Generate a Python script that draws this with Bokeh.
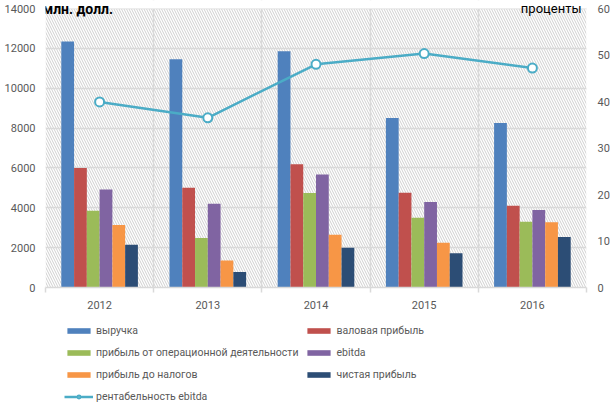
from bokeh.plotting import figure
from bokeh.layouts import column
from bokeh.models import (Range1d, LinearAxis, FixedTicker, Legend, LegendItem, Label,
                          BoxAnnotation, ColumnDataSource, NumeralTickFormatter)
from bokeh.transform import dodge
from bokeh.embed import file_html
from bokeh.resources import INLINE

years = [2012, 2013, 2014, 2015, 2016]
revenue = [12350, 11450, 11850, 8500, 8250]
gross_profit = [6000, 5000, 6180, 4750, 4100]
operating_profit = [3850, 2480, 4740, 3500, 3300]
ebitda = [4920, 4200, 5670, 4290, 3890]
pretax_profit = [3140, 1350, 2650, 2250, 3280]
net_profit = [2140, 780, 2000, 1720, 2530]
ebitda_margin = [39.9, 36.5, 48.0, 50.3, 47.2]

series_names = ["выручка", "валовая прибыль", "прибыль от операционной деятельности",
                "ebitda", "прибыль до налогов", "чистая прибыль"]
line_name = "рентабельность ebitda"
left_unit = "млн. долл."
right_unit = "проценты"

colors = ["#4f81bd", "#c0504d", "#9bbb59", "#8064a2", "#f79646", "#2c4d75"]
line_color = "#4bacc6"
FONT = "Roboto"
GRID = "#d9d9d9"
TXT = "#595959"

Y_MAX, PCT_MAX = 14000, 60
FRAME_H, TOP_PAD = 287, 8          # frame pixels, headroom above the top gridline
y_end = Y_MAX * FRAME_H / (FRAME_H - TOP_PAD)
pct_end = PCT_MAX * FRAME_H / (FRAME_H - TOP_PAD)

src = ColumnDataSource(dict(year=years, s0=revenue, s1=gross_profit, s2=operating_profit,
                            s3=ebitda, s4=pretax_profit, s5=net_profit, m=ebitda_margin))

p = figure(width=614, height=316, x_range=Range1d(2011.5, 2016.5), y_range=Range1d(0, y_end),
           output_backend="svg", toolbar_location=None,
           min_border_left=45, min_border_right=28, min_border_top=0, min_border_bottom=29,
           outline_line_color=None, background_fill_color="white", border_fill_color="white")
p.extra_y_ranges = {"pct": Range1d(0, pct_end)}

# hatched plot area
hatch = BoxAnnotation(top=Y_MAX, fill_alpha=0, line_color=None, hatch_pattern="\\",
                      hatch_color="#cfcfcf", hatch_scale=5, hatch_weight=1, level="image")
p.add_layout(hatch)

# grids
p.ygrid.ticker = FixedTicker(ticks=list(range(0, Y_MAX + 1, 2000)))
p.ygrid.grid_line_color = GRID
p.ygrid.grid_line_width = 1.5
p.xgrid.ticker = FixedTicker(ticks=[2012.5, 2013.5, 2014.5, 2015.5])
p.xgrid.grid_line_color = GRID
p.xgrid.grid_line_width = 1.5

# blank the headroom above the top gridline
p.add_layout(BoxAnnotation(bottom=Y_MAX, fill_color="white", fill_alpha=1, line_color=None,
                           level="underlay"))

# axes
p.xaxis.ticker = FixedTicker(ticks=years, minor_ticks=[2011.5, 2012.5, 2013.5, 2014.5, 2015.5, 2016.5])
p.xaxis.axis_line_color = GRID
p.xaxis.axis_line_width = 1.5
p.xaxis.major_tick_line_color = None
p.xaxis.major_tick_out = 0
p.xaxis.minor_tick_in = 0
p.xaxis.minor_tick_out = 5
p.xaxis.minor_tick_line_color = GRID
p.xaxis.minor_tick_line_width = 1.5
p.xaxis.major_label_standoff = 8
p.xaxis.formatter = NumeralTickFormatter(format="0")

p.yaxis.ticker = FixedTicker(ticks=list(range(0, Y_MAX + 1, 2000)))
p.yaxis.formatter = NumeralTickFormatter(format="0")
p.yaxis.major_label_standoff = 10

right = LinearAxis(y_range_name="pct", ticker=FixedTicker(ticks=list(range(0, PCT_MAX + 1, 10))))
right.major_label_standoff = 11
p.add_layout(right, "right")

for ax in [p.xaxis[0], p.yaxis[0], right]:
    ax.major_label_text_font = FONT
    ax.major_label_text_font_size = "11px"
    ax.major_label_text_color = TXT
for ax in [p.yaxis[0], right]:
    ax.axis_line_color = None
    ax.major_tick_line_color = None
    ax.minor_tick_line_color = None
    ax.major_tick_out = 0

# bars
bw = 0.118
for i in range(6):
    p.vbar(x=dodge("year", (i - 2.5) * bw, range=p.x_range), top="s%d" % i, width=bw,
           source=src, fill_color=colors[i], line_color=None)

p.line(x="year", y="m", y_range_name="pct", source=src, line_color=line_color, line_width=2.5)
p.scatter(x="year", y="m", y_range_name="pct", source=src, marker="circle", size=9,
          fill_color="white", line_color=line_color, line_width=2)

p.add_layout(Label(x=2011.5, y=Y_MAX, x_offset=-3, text=left_unit, text_font=FONT,
                   text_font_size="14px", text_font_style="bold", text_color="black",
                   text_baseline="middle"))
p.add_layout(Label(x=2016.5, y=Y_MAX, x_offset=-5, text=right_unit, text_font=FONT,
                   text_font_size="13px", text_color="black", text_align="right",
                   text_baseline="middle"))

# legend panel (separate strip under the chart)
lg = figure(width=614, height=93, x_range=Range1d(0, 1), y_range=Range1d(0, 1),
            output_backend="svg", toolbar_location=None,
            x_axis_location=None, y_axis_location=None,
            min_border_left=45, min_border_right=28, min_border_top=0, min_border_bottom=0,
            outline_line_color=None, background_fill_color="white", border_fill_color="white")
lg.grid.visible = False
# legend-only glyphs: one point placed outside the visible ranges
dummy = ColumnDataSource(dict(x=[-5], y=[-5]))
items = []
for i in range(6):
    r = lg.vbar(x="x", top="y", width=0.1, source=dummy, fill_color=colors[i], line_color=None)
    items.append(LegendItem(label=series_names[i], renderers=[r]))
l1 = lg.line(x="x", y="y", source=dummy, line_color=line_color, line_width=2.5)
l2 = lg.scatter(x="x", y="y", source=dummy, marker="circle", size=9, fill_color="white",
                line_color=line_color, line_width=2)
items.append(LegendItem(label=line_name, renderers=[l1, l2]))
legend = Legend(items=items, orientation="horizontal", ncols=2, location=(19, 5),
                label_text_font=FONT, label_text_font_size="10.5px", label_text_color=TXT,
                glyph_width=29, glyph_height=7, label_height=16, spacing=6, label_standoff=3,
                padding=5, margin=0, border_line_color=None, background_fill_alpha=0)
lg.add_layout(legend)

open("out.html", "w").write(file_html(column(p, lg), INLINE))
